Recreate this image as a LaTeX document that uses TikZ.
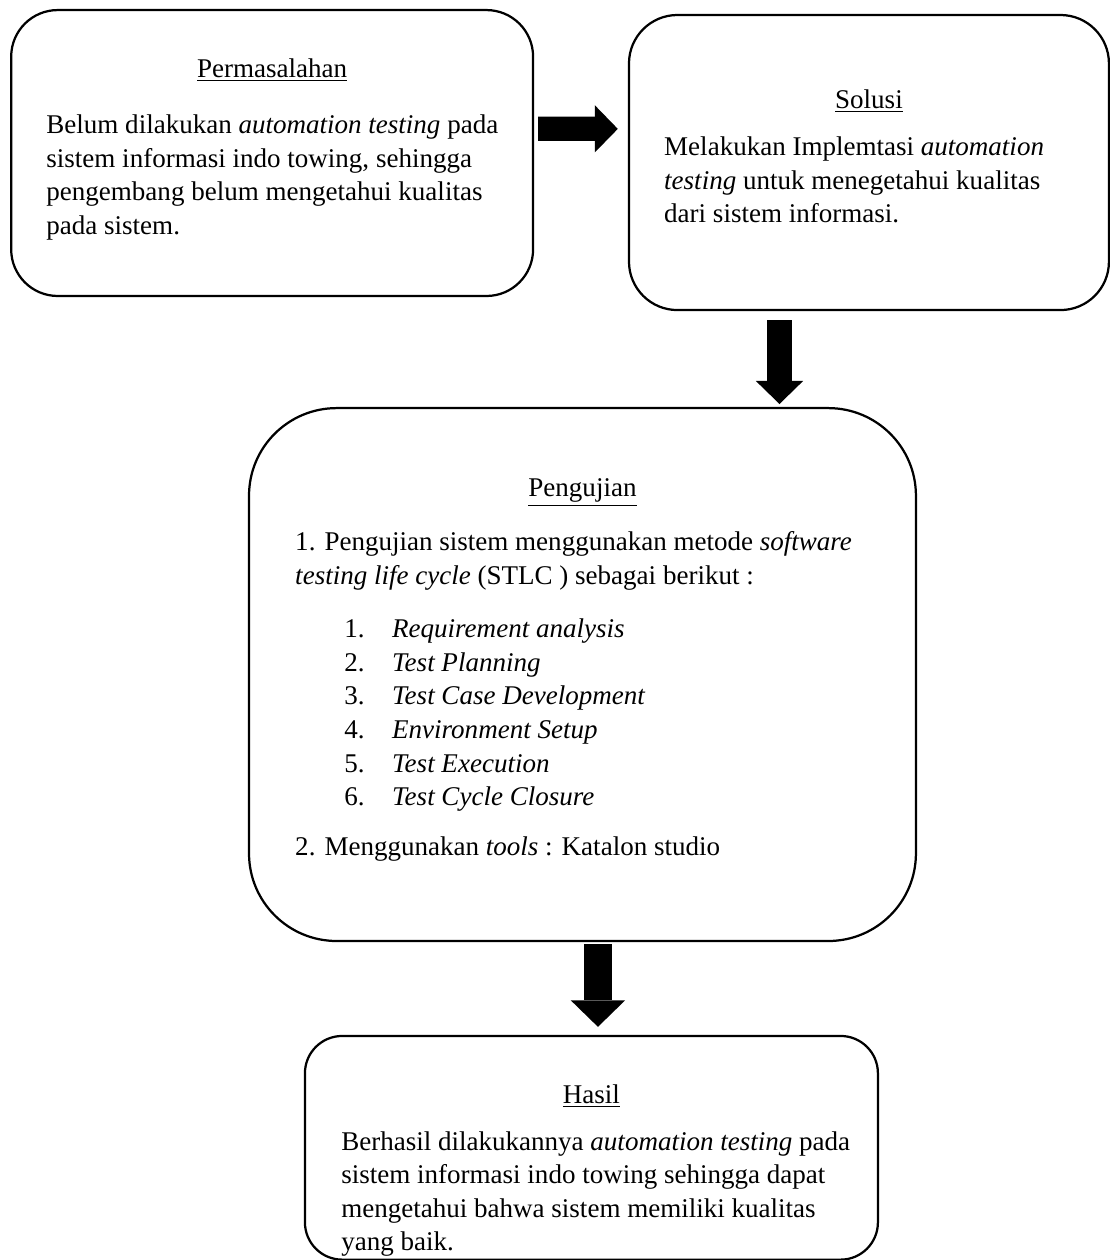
\documentclass[tikz,border=0pt]{standalone}
\usepackage{fontspec}
\setmainfont{Liberation Serif}
\usetikzlibrary{positioning,arrows.meta}

\begin{document}
\begin{tikzpicture}[
    x=1pt,y=1pt,
    font=\fontsize{14.5}{18}\selectfont,
    kotak/.style={draw,line width=1.2pt,rounded corners=#1,inner sep=0pt},
    judul/.style={inner sep=0pt,anchor=base},
    isi/.style={inner sep=0pt,align=left,anchor=north west},
    panah/.style={line width=13pt,-{Triangle[width=0pt 1.95,length=0pt 0.95,line width=0pt]}}
    ]

    \useasboundingbox (0,0) rectangle (595,-676);

    % kotak-kotak
    \node (perm) [kotak=25pt,minimum width=280pt,minimum height=153.4pt] at (146,-82.1) {};
    \node (sol) [kotak=26pt,minimum width=257.5pt,minimum height=158.3pt] at (466.2,-87.2) {};
    \node (uji) [kotak=47pt,minimum width=357.8pt,minimum height=285.9pt] at (312.5,-361.9) {};
    \node (hasil) [kotak=20pt,minimum width=307.4pt,minimum height=120pt] at (317.3,-615.8) {};

    % judul
    \node (permjudul) [judul] at ([yshift=-37pt]perm.north) {\underline{Permasalahan}};
    \node (soljudul) [judul] at ([yshift=-50.8pt]sol.north) {\underline{Solusi}};
    \node (ujijudul) [judul] at ([yshift=-48.1pt]uji.north) {\underline{Pengujian}};
    \node (hasiljudul) [judul] at ([yshift=-36.8pt]hasil.north) {\underline{Hasil}};

    % isi
    \node (permisi) [isi,below right=56.6pt and 19.3pt of perm.north west]
        {Belum dilakukan \textit{automation testing} pada\\
         sistem informasi indo towing, sehingga\\
         pengembang belum mengetahui kualitas\\
         pada sistem.};
    \node (solisi) [isi,below right=65.9pt and 19.3pt of sol.north west]
        {Melakukan Implemtasi \textit{automation}\\
         \textit{testing} untuk menegetahui kualitas\\
         dari sistem informasi.};
    \node (ujiisi) [isi,below right=66.6pt and 25.2pt of uji.north west]
        {1. Pengujian sistem menggunakan metode \textit{software}\\
         \textit{testing life cycle} (STLC ) sebagai berikut :};
    \node (stlc) [isi,below right=113.6pt and 51.5pt of uji.north west]
        {\makebox[25.7pt][l]{1.}\textit{Requirement analysis}\\
         \makebox[25.7pt][l]{2.}\textit{Test Planning}\\
         \makebox[25.7pt][l]{3.}\textit{Test Case Development}\\
         \makebox[25.7pt][l]{4.}\textit{Environment Setup}\\
         \makebox[25.7pt][l]{5.}\textit{Test Execution}\\
         \makebox[25.7pt][l]{6.}\textit{Test Cycle Closure}};
    \node (tools) [isi,below right=230.5pt and 25.2pt of uji.north west]
        {2. Menggunakan \textit{tools} : Katalon studio};
    \node (hasilisi) [isi,below right=51.6pt and 19.9pt of hasil.north west]
        {Berhasil dilakukannya \textit{automation testing} pada\\
         sistem informasi indo towing sehingga dapat\\
         mengetahui bahwa sistem memiliki kualitas\\
         yang baik.};

    % panah
    \draw[panah] ([shift={(2.1pt,-64.3pt)}]perm.north east) -- ([shift={(-5.4pt,-61.7pt)}]sol.north west);
    \draw[panah] ([shift={(-48pt,-4.8pt)}]sol.south) -- ([shift={(105.7pt,1.6pt)}]uji.north);
    \draw[panah,line width=15pt] ([shift={(8.3pt,-1.1pt)}]uji.south) -- ([shift={(3.5pt,4.3pt)}]hasil.north);

\end{tikzpicture}
\end{document}
